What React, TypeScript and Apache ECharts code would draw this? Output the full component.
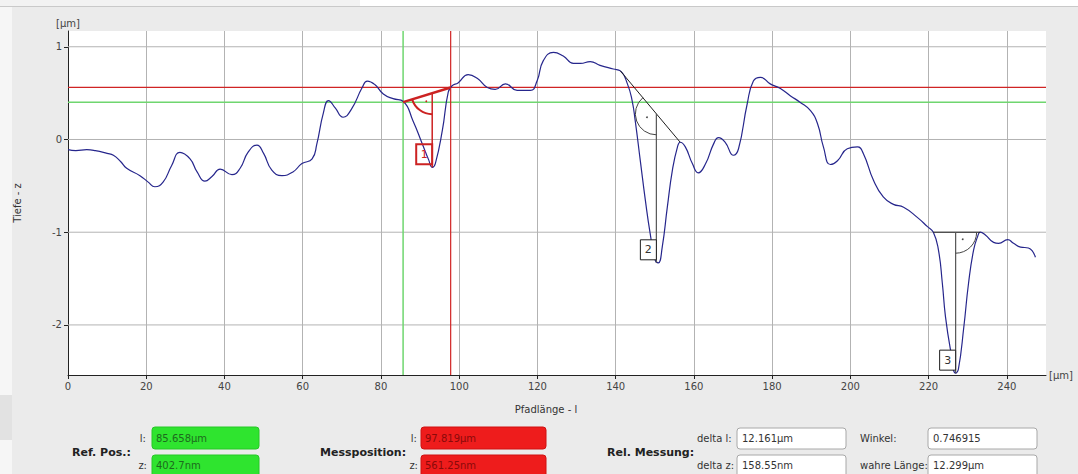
import React, { useEffect, useRef } from "react";
import * as echarts from "echarts";

// ---- Profile data (Pfadlänge l in µm, Tiefe z in µm) ----
const profileL = [
  0, 2, 4.8, 7, 10, 11.6, 13.5, 15, 18.4, 20.5, 22.2, 24.3, 26.5, 28.6, 31.2, 33, 35, 36.8, 38.9, 41.9,
  44, 46, 48.3, 50, 52.1, 54.7, 57.5, 59.8, 62.4, 63.6, 65.3, 66.6, 68.3, 70.3, 72.5, 75.2, 76.5, 78.5,
  80.6, 83.1, 85.7, 88.2, 90.5, 92.2, 93.1, 93.9, 95.7, 97.2, 98.2, 99.7, 102.3, 104.6, 107.2, 109.2,
  111.8, 114.8, 118.2, 119.9, 121.5, 124.1, 126.6, 129.2, 131, 133.5, 136, 139.4, 141.2, 143, 144.2,
  145, 146.3, 147.6, 148.8, 150.1, 150.9, 151.9, 153.2, 154.5, 155.8, 156.5, 157.8, 159.6, 161.1, 163,
  165, 166.3, 168, 170.1, 171.4, 173.6, 175.2, 177, 179.5, 182.1, 184.7, 187.2, 189.8, 191.6, 193.1,
  194.9, 196.7, 199.2, 201.8, 203.3, 205.9, 208.4, 211, 213.6, 217.1, 219.7, 221.2, 222.5, 223.5,
  224.3, 225.6, 226.9, 227.6, 229, 230.2, 231.5, 232.5, 233.2, 234.5, 236.6, 237.9, 240.2, 241.7,
  243.5, 245.5, 247.3,
];
const profileZ = [
  -0.11, -0.12, -0.11, -0.12, -0.15, -0.17, -0.24, -0.31, -0.39, -0.46, -0.51, -0.46, -0.28, -0.14,
  -0.21, -0.35, -0.45, -0.4, -0.32, -0.38, -0.31, -0.14, -0.06, -0.15, -0.33, -0.39, -0.35, -0.26,
  -0.21, -0.05, 0.29, 0.42, 0.34, 0.24, 0.33, 0.56, 0.63, 0.59, 0.49, 0.44, 0.41, 0.2, -0.04, -0.22,
  -0.3, -0.26, 0.1, 0.51, 0.58, 0.61, 0.7, 0.66, 0.56, 0.54, 0.6, 0.53, 0.53, 0.63, 0.85, 0.94, 0.9,
  0.82, 0.82, 0.84, 0.8, 0.76, 0.74, 0.6, 0.42, 0.2, -0.23, -0.66, -1.01, -1.3, -1.33, -1.16, -0.73,
  -0.33, -0.08, -0.03, -0.08, -0.26, -0.36, -0.26, -0.05, 0.02, -0.03, -0.17, -0.1, 0.38, 0.63, 0.67,
  0.6, 0.55, 0.47, 0.4, 0.31, 0.17, -0.08, -0.27, -0.23, -0.1, -0.08, -0.15, -0.44, -0.62, -0.7,
  -0.73, -0.84, -0.94, -1.0, -1.19, -1.55, -1.91, -2.27, -2.52, -2.48, -2.02, -1.55, -1.19, -1.05,
  -1.0, -1.03, -1.11, -1.12, -1.08, -1.12, -1.16, -1.17, -1.27,
];

// ---- Axes ----
const xMin = 0;
const xMax = 250;
const xStep = 20;
const yMin = -2.54;
const yMax = 1.17;
const yTicks = [-2, -1, 0, 1];

// ---- Reference / measurement cursors ----
const refPoint = [85.658, 0.4027];
const measPoint = [97.819, 0.56125];

// ---- Depth markers ----
const markerLabels = ["1", "2", "3"];
const markerChordStart = [
  [85.658, 0.4027],
  [141.2, 0.74],
  [221.2, -1.0],
];
const markerChordEnd = [
  [97.819, 0.56125],
  [156.5, -0.03],
  [233.2, -1.0],
];
const markerDepth = [
  [93.1, -0.3],
  [150.4, -1.33],
  [226.9, -2.52],
];
const markerArcSide = ["start", "start", "end"];

// ---- Panel values ----
const refL = "85.658µm";
const refZ = "402.7nm";
const messL = "97.819µm";
const messZ = "561.25nm";
const deltaL = "12.161µm";
const deltaZ = "158.55nm";
const winkel = "0.746915";
const wahreLaenge = "12.299µm";

const FONT = "DejaVu Sans";

function cursorSeries(name: string, p: number[], color: string, width: number) {
  const base = {
    type: "line",
    showSymbol: false,
    silent: true,
    z: 2,
    lineStyle: { color, width, type: "solid" },
  };
  return [
    { ...base, name: name + "-h", data: [[xMin, p[1]], [xMax, p[1]]] },
    { ...base, name: name + "-v", data: [[p[0], yMin], [p[0], yMax]] },
  ];
}

function buildOption(): any {
  const profile = profileL.map((l, i) => [l, profileZ[i]]);
  const markerData = markerLabels.map((_, i) => [
    markerChordStart[i][0],
    markerChordStart[i][1],
    markerChordEnd[i][0],
    markerChordEnd[i][1],
    markerDepth[i][0],
    markerDepth[i][1],
  ]);

  const txt = (x: number, y: number, text: string, opts: any = {}) => ({
    type: "text",
    x,
    y,
    z: 10,
    style: {
      text,
      font: `${opts.bold ? "bold " : ""}${opts.size || 10}px ${FONT}`,
      fill: opts.fill || "#333",
      align: opts.align || "left",
      verticalAlign: "middle",
    },
  });
  const box = (x: number, y: number, w: number, h: number, fill: string, stroke: string) => ({
    type: "rect",
    shape: { x, y, width: w, height: h, r: 3 },
    z: 5,
    style: { fill, stroke, lineWidth: 1 },
  });

  return {
    animation: false,
    backgroundColor: "#ebebeb",
    textStyle: { fontFamily: FONT },
    grid: {
      left: 68,
      right: 32,
      top: 31,
      bottom: 99,
      containLabel: false,
      outerBoundsMode: "none",
      show: true,
      backgroundColor: "#ffffff",
      borderWidth: 0,
    },
    xAxis: {
      type: "value",
      min: xMin,
      max: xMax,
      interval: xStep,
      name: "[µm]",
      nameLocation: "end",
      nameGap: 3,
      nameTextStyle: { fontSize: 10, color: "#444", fontFamily: FONT },
      axisLine: { show: true, onZero: false, lineStyle: { color: "#222", width: 1 } },
      axisTick: { show: true, length: 4, lineStyle: { color: "#222" } },
      axisLabel: { showMaxLabel: false, fontSize: 10, color: "#444", margin: 6, fontFamily: FONT },
      splitLine: {
        show: true,
        showMinLine: false,
        showMaxLine: false,
        lineStyle: { color: "#b3b3b3", width: 1 },
      },
    },
    yAxis: {
      type: "value",
      min: yMin,
      max: yMax,
      name: "[µm]",
      nameLocation: "end",
      nameGap: 3,
      nameTextStyle: { fontSize: 10, color: "#444", fontFamily: FONT },
      axisLine: { show: true, onZero: false, lineStyle: { color: "#222", width: 1 } },
      axisTick: { show: true, length: 4, customValues: yTicks, lineStyle: { color: "#222" } },
      axisLabel: { customValues: yTicks, fontSize: 10, color: "#444", margin: 6, fontFamily: FONT },
      splitLine: { show: false },
    },
    series: [
      ...yTicks.map((v) => ({
        name: "grid" + v,
        type: "line",
        data: [[xMin, v], [xMax, v]],
        showSymbol: false,
        silent: true,
        z: 1,
        lineStyle: { color: "#b3b3b3", width: 1, type: "solid" },
      })),
      ...cursorSeries("ref", refPoint, "#6fd66f", 1.5),
      ...cursorSeries("meas", measPoint, "#d02424", 1.2),
      {
        name: "Profil",
        type: "line",
        data: profile,
        showSymbol: false,
        smooth: 0.5,
        lineStyle: { color: "#26268c", width: 1.2 },
        z: 3,
      },
      {
        name: "Marker",
        type: "custom",
        data: markerData,
        encode: { x: [0, 2, 4], y: [1, 3, 5] },
        clip: false,
        silent: true,
        z: 4,
        renderItem: (params: any, api: any) => {
          const i = params.dataIndex;
          const l0 = api.value(0),
            z0 = api.value(1),
            l1 = api.value(2),
            z1 = api.value(3),
            ld = api.value(4),
            zd = api.value(5);
          const s = api.coord([l0, z0]);
          const e = api.coord([l1, z1]);
          const t = (ld - l0) / (l1 - l0);
          const top = api.coord([ld, z0 + t * (z1 - z0)]);
          const bot = api.coord([ld, zd]);
          const side = markerArcSide[i] === "start" ? s : e;
          let ang = Math.atan2(side[1] - top[1], side[0] - top[0]);
          if (ang < 0) ang += 2 * Math.PI;
          const down = Math.PI / 2;
          const a0 = Math.min(ang, down);
          const a1 = Math.max(ang, down);
          const mid = (a0 + a1) / 2;
          const primary = i === 0;
          const col = primary ? "#cc2222" : "#1e1e1e";
          return {
            type: "group",
            children: [
              {
                type: "line",
                shape: { x1: s[0], y1: s[1], x2: e[0], y2: e[1] },
                style: { stroke: col, lineWidth: primary ? 2.5 : 1 },
              },
              {
                type: "line",
                shape: { x1: top[0], y1: top[1], x2: bot[0], y2: bot[1] },
                style: { stroke: primary ? col : "#555", lineWidth: primary ? 1.5 : 1.2 },
              },
              {
                type: "arc",
                shape: { cx: top[0], cy: top[1], r: 21, startAngle: a0, endAngle: a1, clockwise: true },
                style: { stroke: primary ? col : "#444", fill: "none", lineWidth: primary ? 2 : 1 },
              },
              {
                type: "circle",
                shape: { cx: top[0] + 10 * Math.cos(mid), cy: top[1] + 10 * Math.sin(mid), r: 0.9 },
                style: { fill: primary ? col : "#444" },
              },
              {
                type: "rect",
                shape: { x: bot[0] - 16, y: bot[1] - 23, width: 16, height: 20 },
                style: { stroke: col, fill: primary ? "none" : "#ffffff", lineWidth: primary ? 2 : 1 },
              },
              {
                type: "text",
                x: bot[0] - 8,
                y: bot[1] - 13,
                style: {
                  text: markerLabels[i],
                  font: `11px ${FONT}`,
                  fill: primary ? "#cc2222" : "#333",
                  align: "center",
                  verticalAlign: "middle",
                },
              },
            ],
          };
        },
      },
    ],
    graphic: [
      // window chrome
      { type: "rect", shape: { x: 0, y: 0, width: 360, height: 6 }, style: { fill: "#f2f2f2" }, z: 0 },
      { type: "rect", shape: { x: 360, y: 0, width: 718, height: 6 }, style: { fill: "#ffffff" }, z: 0 },
      { type: "line", shape: { x1: 0, y1: 6.5, x2: 1078, y2: 6.5 }, style: { stroke: "#c9c9c9", lineWidth: 1 }, z: 0 },
      { type: "rect", shape: { x: 0, y: 7, width: 12, height: 467 }, style: { fill: "#f6f6f6" }, z: 0 },
      { type: "rect", shape: { x: 0, y: 395, width: 12, height: 45 }, style: { fill: "#e2e2e2" }, z: 0 },
      // axis titles
      {
        type: "text",
        x: 17,
        y: 203,
        rotation: Math.PI / 2,
        z: 10,
        style: { text: "Tiefe - z", font: `10px ${FONT}`, fill: "#333", align: "center", verticalAlign: "middle" },
      },
      txt(546, 409, "Pfadlänge - l", { align: "center" }),
      // Ref. Pos.
      txt(72, 452, "Ref. Pos.:", { bold: true, size: 11, fill: "#222" }),
      txt(146, 438, "l:", { align: "right" }),
      txt(147, 465, "z:", { align: "right" }),
      box(152, 427, 107, 22, "#2fe42f", "#27c827"),
      box(152, 455, 107, 24, "#2fe42f", "#27c827"),
      txt(156, 438, refL, { fill: "#1d6b1d" }),
      txt(156, 465, refZ, { fill: "#1d6b1d" }),
      // Messposition
      txt(320, 452, "Messposition:", { bold: true, size: 11, fill: "#222" }),
      txt(417, 438, "l:", { align: "right" }),
      txt(418, 465, "z:", { align: "right" }),
      box(421, 427, 125, 22, "#ee1c1c", "#d01010"),
      box(421, 455, 125, 24, "#ee1c1c", "#d01010"),
      txt(425, 438, messL, { fill: "#8a0a0a" }),
      txt(425, 465, messZ, { fill: "#8a0a0a" }),
      // Rel. Messung
      txt(607, 452, "Rel. Messung:", { bold: true, size: 11, fill: "#222" }),
      txt(697, 438, "delta l:"),
      txt(697, 465, "delta z:"),
      box(737, 428, 109, 21, "#ffffff", "#a8a8a8"),
      box(737, 455, 109, 24, "#ffffff", "#a8a8a8"),
      txt(742, 438, deltaL),
      txt(742, 465, deltaZ),
      txt(860, 438, "Winkel:"),
      txt(860, 465, "wahre Länge:"),
      box(928, 428, 109, 21, "#ffffff", "#a8a8a8"),
      box(928, 455, 109, 24, "#ffffff", "#a8a8a8"),
      txt(933, 438, winkel),
      txt(933, 465, wahreLaenge),
    ],
  };
}

export default function App() {
  const ref = useRef<HTMLDivElement>(null);
  useEffect(() => {
    document.body.style.margin = "0";
    if (!ref.current) return;
    const chart = echarts.init(ref.current, undefined, { renderer: "svg" });
    chart.setOption(buildOption());
    return () => chart.dispose();
  }, []);
  return <div ref={ref} style={{ width: 1078, height: 474 }} />;
}
